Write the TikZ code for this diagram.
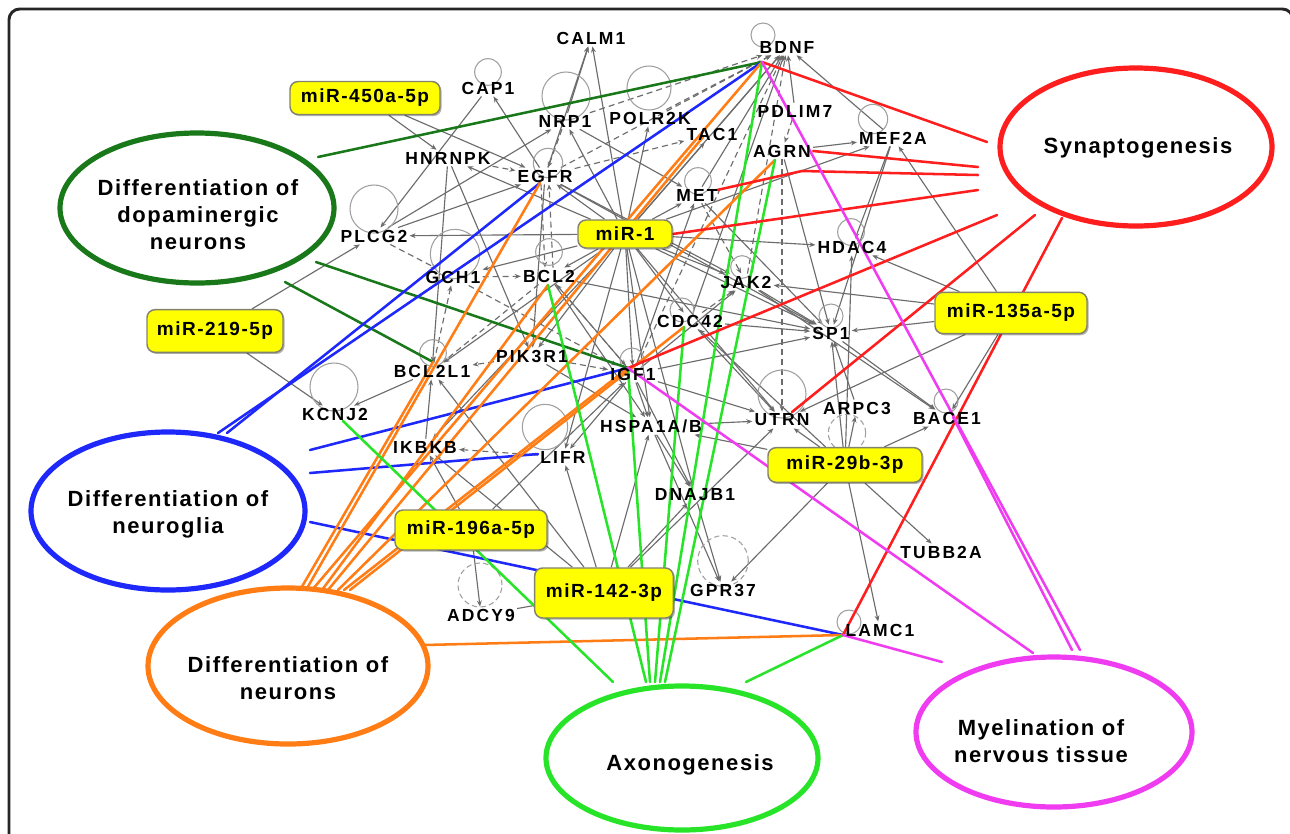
\documentclass[tikz,border=0pt]{standalone}
\usepackage{fontspec}
\setmainfont{Liberation Sans}
\newfontfamily\gfontfam{Liberation Sans}[LetterSpace=12]
\newfontfamily\mfontfam{Liberation Sans}[LetterSpace=8]
\newfontfamily\efontfam{Liberation Sans}[LetterSpace=7]
\newcommand{\gfont}{\gfontfam\bfseries\fontsize{13.1}{14}\selectfont}
\newcommand{\mfont}{\mfontfam\bfseries\fontsize{14.25}{16}\selectfont}
\newcommand{\efont}{\efontfam\bfseries\fontsize{16.5}{20.25}\selectfont}
\usetikzlibrary{arrows.meta,shapes.geometric,shadows}
\pgfdeclarelayer{back}
\pgfdeclarelayer{bg}
\pgfdeclarelayer{mid}
\pgfsetlayers{back,bg,mid,main}
\definecolor{eg}{RGB}{108,108,108}
\definecolor{lg}{RGB}{160,160,160}
\definecolor{cdg}{RGB}{25,120,25}
\definecolor{cbl}{RGB}{30,40,250}
\definecolor{cor}{RGB}{255,125,20}
\definecolor{cgr}{RGB}{40,228,40}
\definecolor{crd}{RGB}{255,30,30}
\definecolor{cmg}{RGB}{240,60,240}
\definecolor{ylw}{RGB}{255,255,0}
\definecolor{boxline}{RGB}{130,130,110}
\tikzset{
  gene/.style={font=\gfont, inner sep=1.5pt, text=black},
  mir/.style={draw=boxline, fill=ylw, rounded corners=6pt, line width=1.1pt, font=\mfont, inner sep=1pt,
    drop shadow={shadow xshift=1.2pt, shadow yshift=-1.2pt, opacity=0.3, fill=black}},
  proc/.style={ellipse, line width=3.9pt, inner sep=0pt},
  etext/.style={font=\efont, align=center, text=black},
  ge/.style={draw=eg, line width=0.85pt, -{Stealth[length=4.5pt,width=3.6pt]}},
  gd/.style={ge, dash pattern=on 4.5pt off 3pt},
  gl/.style={draw=eg, line width=0.85pt},
  loopc/.style={draw=lg, line width=0.8pt},
  loopd/.style={loopc, dash pattern=on 4pt off 2.5pt},
  cl/.style={line width=1.9pt, line cap=round},
}
\begin{document}
\begin{tikzpicture}[x=0.75pt, y=-0.75pt]
\useasboundingbox (0,0) rectangle (1290,833);
\begin{pgfonlayer}{back}
\fill[white] (0,0) rectangle (1290,833);
\end{pgfonlayer}
\begin{scope}
\clip (0,0) rectangle (1290,833);
\draw[line width=2.2pt, color=black!85, rounded corners=8pt] (9,900) -- (9,9) -- (1293,9) -- (1293,900);
\end{scope}

% ---------- process ellipses ----------
\node[proc, draw=crd, minimum width=204pt, minimum height=118.5pt] (synap) at (1136,147) {};
\node[proc, draw=cdg, minimum width=205.5pt, minimum height=112.5pt] (dopa) at (197,208) {};
\node[proc, draw=cbl, minimum width=205.5pt, minimum height=118.5pt] (glia) at (168,511) {};
\node[proc, draw=cor, minimum width=210pt, minimum height=117pt] (neur) at (288,666) {};
\node[proc, draw=cgr, minimum width=204pt, minimum height=108pt] (axon) at (682,758) {};
\node[proc, draw=cmg, minimum width=207pt, minimum height=112.5pt] (myel) at (1054,732) {};
\node[etext] (synapT) at (1138,148) {Synaptogenesis};
\node[etext] (dopaT) at (198,215) {Differentiation of\\dopaminergic\\neurons};
\node[etext] (gliaT) at (168,514) {Differentiation of\\neuroglia};
\node[etext] (neurT) at (288,678) {Differentiation of\\neurons};
\node[etext] (axonT) at (690,765) {Axonogenesis};
\node[etext] (myelT) at (1041,741) {Myelination of\\nervous tissue};

% ---------- genes ----------
\node[gene] (BDNF) at (787,47) {BDNF};
\node[gene] (CALM1) at (591,38) {CALM1};
\node[gene] (CAP1) at (488,88) {CAP1};
\node[gene] (NRP1) at (565,121) {NRP1};
\node[gene] (POLR2K) at (650,118) {POLR2K};
\node[gene] (HNRNPK) at (448,158) {HNRNPK};
\node[gene] (EGFR) at (545,176) {EGFR};
\node[gene] (PLCG2) at (374,236) {PLCG2};
\node[gene] (TAC1) at (712,134) {TAC1};
\node[gene] (PDLIM7) at (795,111) {PDLIM7};
\node[gene] (AGRN) at (782,151) {AGRN};
\node[gene] (MEF2A) at (893,138) {MEF2A};
\node[gene] (MET) at (697,195) {MET};
\node[gene] (HDAC4) at (852,247) {HDAC4};
\node[gene] (GCH1) at (453,277) {GCH1};
\node[gene] (BCL2) at (549,276) {BCL2};
\node[gene] (JAK2) at (746,282) {JAK2};
\node[gene] (CDC42) at (690,321) {CDC42};
\node[gene] (SP1) at (831,333) {SP1};
\node[gene] (PIK3R1) at (532,356) {PIK3R1};
\node[gene] (BCL2L1) at (432,371) {BCL2L1};
\node[gene] (IGF1) at (633,374) {IGF1};
\node[gene] (KCNJ2) at (335,414) {KCNJ2};
\node[gene] (IKBKB) at (425,447) {IKBKB};
\node[gene] (LIFR) at (563,457) {LIFR};
\node[gene] (HSPA) at (651,426) {HSPA1A/B};
\node[gene] (UTRN) at (782,420) {UTRN};
\node[gene] (ARPC3) at (857,408) {ARPC3};
\node[gene] (BACE1) at (947,418) {BACE1};
\node[gene] (DNAJB1) at (695,495) {DNAJB1};
\node[gene] (TUBB2A) at (941,552) {TUBB2A};
\node[gene] (GPR37) at (723,590) {GPR37};
\node[gene] (LAMC1) at (880,630) {LAMC1};
\node[gene] (ADCY9) at (481,615) {ADCY9};

% ---------- microRNAs ----------
\node[mir, minimum width=112.5pt, minimum height=24.75pt] (m450) at (365,98) {miR-450a-5p};
\node[mir, minimum width=70.5pt, minimum height=21pt] (m1) at (625,234) {miR-1};
\node[mir, minimum width=102pt, minimum height=32pt] (m219) at (215,331) {miR-219-5p};
\node[mir, minimum width=114pt, minimum height=31pt] (m135) at (1011,313) {miR-135a-5p};
\node[mir, minimum width=115.5pt, minimum height=26pt] (m29b) at (845,465) {miR-29b-3p};
\node[mir, minimum width=114pt, minimum height=30pt] (m196) at (471,530) {miR-196a-5p};
\node[mir, minimum width=104pt, minimum height=37.5pt] (m142) at (604,593) {miR-142-3p};

% ---------- hubs and free ends ----------
\coordinate (hBDNF) at (762,62);
\coordinate (hEGFR) at (540,183);
\coordinate (hIGF1) at (628,368);
\coordinate (hBCL2L1) at (433,362);
\coordinate (hBCL2) at (548,285);
\coordinate (hTAC1) at (703,137);
\coordinate (hAGRN) at (775,160);
\coordinate (hCDC42) at (684,327);
\coordinate (hLIFR) at (538,454);
\coordinate (hLAMC1) at (843,635);
\coordinate (hKCNJ2) at (343,421);
\coordinate (hMET) at (717,190);
\coordinate (hUTRN) at (792,412);
\coordinate (hBACE1) at (953,417);
\coordinate (rbend) at (802,171);
\coordinate (g1) at (318,157);
\coordinate (g2) at (316,262);
\coordinate (g3) at (285,282);
\coordinate (b1) at (218,433);
\coordinate (b2) at (227,433);
\coordinate (b3) at (310,450);
\coordinate (b4) at (310,473);
\coordinate (b5) at (310,522);
\coordinate (o1) at (300,590);
\coordinate (o2) at (306,590);
\coordinate (o3) at (312,590);
\coordinate (o4) at (322,590);
\coordinate (o5) at (328,590);
\coordinate (o6) at (338,590);
\coordinate (o7) at (344,590);
\coordinate (o8) at (350,590);
\coordinate (o9) at (424,645);
\coordinate (a1) at (613,682);
\coordinate (a2) at (646,682);
\coordinate (a3) at (650,682);
\coordinate (a4) at (655,682);
\coordinate (a5) at (660,682);
\coordinate (a6) at (665,682);
\coordinate (a7) at (746,682);
\coordinate (r1) at (987,142);
\coordinate (r2) at (978,167);
\coordinate (r3) at (978,175);
\coordinate (r4) at (978,190);
\coordinate (r5) at (997,215);
\coordinate (r6) at (1035,215);
\coordinate (r7) at (1062,218);
\coordinate (p1) at (1080,650);
\coordinate (p2) at (1072,650);
\coordinate (p3) at (1033,653);
\coordinate (p4) at (942,662);

% ---------- gray network ----------
\begin{pgfonlayer}{bg}
\foreach \t in {EGFR,NRP1,POLR2K,CALM1,TAC1,MET,BDNF,HDAC4,JAK2,SP1,CDC42,IGF1,HSPA,PIK3R1,BCL2,GCH1,BCL2L1,LIFR,UTRN,HNRNPK,DNAJB1,PLCG2,MEF2A,IKBKB}
  \draw[ge] (m1) -- (\t);
\draw[ge] (m450) -- (HNRNPK);
\draw[ge] (m450) -- (EGFR);
\draw[ge] (m219) -- (PLCG2);
\draw[ge] (m219) -- (KCNJ2);
\foreach \t in {SP1,BACE1,UTRN,HDAC4,JAK2,MEF2A}
  \draw[ge] (m135) -- (\t);
\foreach \t in {ARPC3,BACE1,SP1,HDAC4,LAMC1,TUBB2A,GPR37,HSPA,UTRN,CDC42}
  \draw[ge] (m29b) -- (\t);
\foreach \t in {LIFR,HSPA,UTRN,IKBKB,BCL2L1,DNAJB1}
  \draw[ge] (m142) -- (\t);
\draw[gl] (m142) -- (ADCY9);
\draw[ge] (m196) -- (ADCY9);
\draw[ge] (m196) -- (IKBKB);
\draw[ge] (m196) -- (IGF1);
% gene to gene
\draw[ge] (EGFR) -- (CAP1);
\draw[ge] (EGFR) -- (CALM1);
\draw[ge] (NRP1) -- (CALM1);
\draw[ge] (CAP1) -- (PLCG2);
\draw[gd] (HNRNPK) -- (EGFR);
\draw[ge] (HNRNPK) -- (PIK3R1);
\draw[ge] (HNRNPK) -- (BCL2L1);
\draw[gd] (NRP1) -- (EGFR);
\draw[gd] ([xshift=-3pt]EGFR.south) -- ([xshift=-3pt]BCL2.north);
\draw[gd] ([xshift=3pt]BCL2.north) -- ([xshift=3pt]EGFR.south);
\draw[gd] (EGFR) -- (TAC1);
\draw[gd] (PLCG2) -- (GCH1);
\draw[ge] (PLCG2) -- (EGFR);
\draw[ge] (PLCG2) -- (NRP1);
\draw[gd] (GCH1) -- (BCL2);
\draw[gd] (BCL2L1) -- (GCH1);
\draw[gd] (BCL2) -- (BCL2L1);
\draw[ge] (BCL2) -- (IGF1);
\draw[gd] (IGF1) -- (BCL2);
\draw[gd] (PIK3R1) -- (IGF1);
\draw[gd] (PIK3R1) -- (BCL2L1);
\draw[ge] (EGFR) -- (PIK3R1);
\draw[ge] (IKBKB) -- (BCL2L1);
\draw[ge] (BCL2L1) -- (KCNJ2);
\draw[gd] (LIFR) -- (IKBKB);
\draw[ge] (IGF1) -- (LIFR);
\draw[ge] (IGF1) -- (HSPA);
\draw[ge] (IGF1) -- (SP1);
\draw[ge] (IGF1) -- (JAK2);
\draw[gd] (IGF1) -- (BDNF);
\draw[ge] (IGF1) -- (MET);
\draw[ge] (IGF1) -- (UTRN);
\draw[ge] (IGF1) -- (DNAJB1);
\draw[gd] (GCH1) -- (IGF1);
\draw[ge] (HSPA) -- (DNAJB1);
\draw[ge] (HSPA) -- (GPR37);
\draw[ge] (HSPA) -- (UTRN);
\draw[ge] (DNAJB1) -- (GPR37);
\draw[ge] (JAK2) -- (SP1);
\draw[ge] (JAK2) -- (BACE1);
\draw[ge] (CDC42) -- (SP1);
\draw[gd] (CDC42) -- (JAK2);
\draw[ge] (CDC42) -- (UTRN);
\draw[ge] (MET) -- (BDNF);
\draw[gd] (MET) -- (JAK2);
\draw[ge] (MET) -- (SP1);
\draw[ge] (TAC1) -- (BDNF);
\draw[gd] (NRP1) -- (BDNF);
\draw[gd] (POLR2K) -- (BDNF);
\draw[gd] (EGFR) -- (BDNF);
\draw[ge] (NRP1) -- (MET);
\draw[ge] (AGRN) -- (MEF2A);
\draw[ge] (MEF2A) -- (BDNF);
\draw[ge] (MEF2A) -- (HDAC4);
\draw[ge] (MEF2A) -- (SP1);
\draw[gd] (PDLIM7) -- (AGRN);
\draw[ge] (PDLIM7) -- (BDNF);
\draw[gd] (AGRN) -- (UTRN);
\draw[ge] (AGRN) -- (SP1);
\draw[ge] (ARPC3) -- (SP1);
\draw[ge] (SP1) -- (BACE1);
\draw[ge] (BCL2) -- (HSPA);
\draw[ge] (PIK3R1) -- (HSPA);
\draw[ge] (EGFR) -- (JAK2);
\draw[ge] (EGFR) -- (SP1);
\draw[ge] (BCL2) -- (SP1);
\draw[gd] (JAK2) -- (BDNF);
\draw[ge] (CDC42) -- (BDNF);
% self loops
\draw[loopc] (763,35) circle[radius=9pt];
\draw[loopc] (488,72) circle[radius=10pt];
\draw[loopc] (566,96) circle[radius=18pt];
\draw[loopc] (649,88) circle[radius=16.5pt];
\draw[loopc] (548,163) circle[radius=11pt];
\draw[loopc] (374,209) circle[radius=18pt];
\draw[loopc] (873,119) circle[radius=11pt];
\draw[loopc] (698,181) circle[radius=10pt];
\draw[loopc] (851,232) circle[radius=10pt];
\draw[loopc] (455,254) circle[radius=18.5pt];
\draw[loopc] (549,252) circle[radius=10pt];
\draw[loopc] (742,267) circle[radius=8.5pt];
\draw[loopc] (831,316) circle[radius=9pt];
\draw[loopc] (433,353) circle[radius=10pt];
\draw[loopc] (632,360) circle[radius=9pt];
\draw[loopc] (334,387) circle[radius=18pt];
\draw[loopc] (545,427) circle[radius=17pt];
\draw[loopc] (782,394) circle[radius=18pt];
\draw[loopd] (847,433) circle[radius=14pt];
\draw[loopc] (946,401) circle[radius=9pt];
\draw[loopd] (723,561) circle[radius=19pt];
\draw[loopc] (849,622) circle[radius=9pt];
\draw[loopd] (480,585) circle[radius=16.5pt];
\draw[loopc] (682,310) circle[radius=9pt];
\end{pgfonlayer}

% ---------- coloured links ----------
\begin{pgfonlayer}{mid}
\draw[cl, cdg] (g1) -- (hBDNF);
\draw[cl, cdg] (g2) -- (hIGF1);
\draw[cl, cdg] (g3) -- (hBCL2L1);
\draw[cl, cbl] (b1) -- (hBDNF);
\draw[cl, cbl] (b2) -- (hEGFR);
\draw[cl, cbl] (b3) -- (hIGF1);
\draw[cl, cbl] (b4) -- (hLIFR);
\draw[cl, cbl] (b5) -- (hLAMC1);
\draw[cl, cor] (o1) -- (hBCL2L1);
\draw[cl, cor] (o2) -- (hEGFR);
\draw[cl, cor] (o3) -- (hBDNF);
\draw[cl, cor] (o4) -- (hBCL2);
\draw[cl, cor] (o5) -- (hTAC1);
\draw[cl, cor] (o6) -- (hAGRN);
\draw[cl, cor] (o7) -- (hIGF1);
\draw[cl, cor] (o8) -- (hCDC42);
\draw[cl, cor] (o9) -- (hLAMC1);
\draw[cl, cgr] (a1) -- (hKCNJ2);
\draw[cl, cgr] (a2) -- (hBCL2);
\draw[cl, cgr] (a3) -- (hIGF1);
\draw[cl, cgr] (a4) -- (hCDC42);
\draw[cl, cgr] (a5) -- (hBDNF);
\draw[cl, cgr] (a6) -- (hAGRN);
\draw[cl, cgr] (a7) -- (hLAMC1);
\draw[cl, crd] (r1) -- (hBDNF);
\draw[cl, crd] (r2) -- (AGRN.east);
\draw[cl, crd] (r3) -- (rbend) -- (hMET);
\draw[cl, crd] (r4) -- (m1.east);
\draw[cl, crd] (r5) -- (hIGF1);
\draw[cl, crd] (r6) -- (hUTRN);
\draw[cl, crd] (r7) -- (hLAMC1);
\draw[cl, cmg] (p1) -- (hBDNF);
\draw[cl, cmg] (p2) -- (hBACE1);
\draw[cl, cmg] (p3) -- (hIGF1);
\draw[cl, cmg] (p4) -- (hLAMC1);
\end{pgfonlayer}
\end{tikzpicture}
\end{document}
